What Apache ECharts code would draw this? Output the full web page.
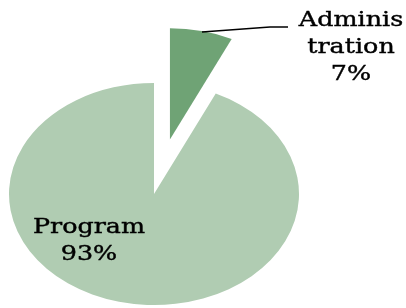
<!DOCTYPE html>
<html>
	<head>
		<meta charset="utf-8">
		<title>Program vs Administration</title>
		<script src="https://cdn.jsdelivr.net/npm/echarts@6/dist/echarts.min.js"></script>
		<style>
			html, body { margin:0; padding:0; background:#fff; }
			#chart { width:406px; height:308px; }
		</style>
	</head>
	<body>
		<div id="chart"></div>
		<script type="text/javascript">
			var categories = ['Administration', 'Program'];
			var values = [7, 93];
			var colors = ['#6fa375', '#b0ccb2'];

			var total = values.reduce(function (a, b) { return a + b; }, 0);
			var FONT = '20px "DejaVu Serif"';

			// pie drawn as circle then squashed vertically (the original is an ellipse)
			var cx = 154, cy = 194, r = 145, squash = 0.766;

			function renderItem(params, api) {
				var i = params.dataIndex;
				var before = 0;
				for (var k = 0; k < i; k++) before += values[k];
				var a0 = -Math.PI / 2 + before / total * Math.PI * 2;
				var a1 = a0 + api.value(0) / total * Math.PI * 2;
				var mid = (a0 + a1) / 2;
				var d = i === 0 ? 73 : 0; // exploded slice
				var children = [{
					type: 'group',
					x: cx, y: cy, scaleY: squash,
					children: [{
						type: 'sector',
						shape: {
							cx: d * Math.cos(mid), cy: d * Math.sin(mid),
							r0: 0, r: r, startAngle: a0, endAngle: a1, clockwise: true
						},
						style: { fill: colors[i] }
					}]
				}];
				var name = categories[i];
				if (name.length > 7) name = name.slice(0, 7) + '\n' + name.slice(7);
				var pct = Math.round(api.value(0) / total * 100) + '%';
				var pos = i === 0 ? [351, 48] : [89, 241];
				children.push({
					type: 'text',
					x: pos[0], y: pos[1], scaleX: 1.27,
					style: {
						text: name + '\n' + pct,
						font: FONT, fill: '#000',
						stroke: '#000', lineWidth: 0.4,
						align: 'center', verticalAlign: 'middle',
						lineHeight: 27
					}
				});
				if (i === 0) {
					children.push({
						type: 'polyline',
						shape: { points: [[202, 32], [270, 27], [288, 27]] },
						style: { stroke: '#000', lineWidth: 1.5, fill: null }
					});
				}
				return { type: 'group', children: children };
			}

			var myChart = echarts.init(document.getElementById('chart'));
			myChart.setOption({
				animation: false,
				series: [{
					type: 'custom',
					coordinateSystem: 'none',
					renderItem: renderItem,
					data: values.map(function (v, i) { return { name: categories[i], value: [v] }; })
				}]
			});
		</script>
	</body>
</html>
